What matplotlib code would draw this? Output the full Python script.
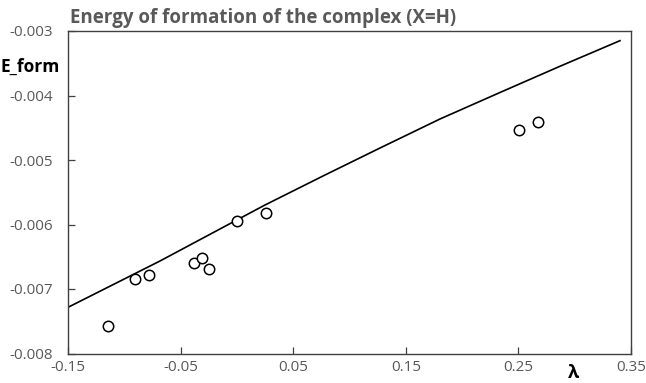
import matplotlib
matplotlib.use("Agg")
import matplotlib.pyplot as plt

# scatter data (lambda, E_form)
lam_pts = [-0.1147, -0.0905, -0.0781, -0.0384, -0.0311, -0.0248, 0.0001, 0.0258, 0.2505, 0.2676]
e_pts = [-0.007569, -0.006845, -0.006783, -0.006592, -0.006515, -0.006690, -0.005941, -0.005826, -0.004535, -0.004406]

# model curve
lam_line = [-0.15, -0.0683, -0.0151, 0.0249, 0.0782, 0.1271, 0.1804, 0.2337, 0.2869, 0.3402]
e_line = [-0.007284, -0.006566, -0.006070, -0.005698, -0.005233, -0.004814, -0.004364, -0.003953, -0.003547, -0.003150]

xticks = [-0.15, -0.05, 0.05, 0.15, 0.25, 0.35]
yticks = [-0.008, -0.007, -0.006, -0.005, -0.004, -0.003]

plt.rcParams['font.family'] = ['Open Sans', 'DejaVu Sans']

fig = plt.figure(figsize=(6.46, 3.83), dpi=100)
ax = fig.add_axes([68/646, 1-353.5/383, (631-68)/646, (353.5-31)/383])

ax.plot(lam_line, e_line, color='black', lw=1.2)
ax.plot(lam_pts, e_pts, linestyle='none', marker='o', markersize=7.5,
        markerfacecolor='white', markeredgecolor='black', markeredgewidth=1.1)

ax.set_xlim(-0.15, 0.35)
ax.set_ylim(-0.008, -0.003)
ax.set_xticks(xticks)
ax.set_yticks(yticks)
ax.set_xticklabels([f"{v:g}" for v in xticks])
ax.set_yticklabels([f"{v:.3f}" for v in yticks])
ax.tick_params(direction='in', length=5, width=0.9, colors='#404040',
               labelcolor='#595959', labelsize=11)
ax.tick_params(axis='x', pad=5)
ax.tick_params(axis='y', pad=11)
for s in ax.spines.values():
    s.set_color('#404040')
    s.set_linewidth(1.0)

fig.text(263/646, 1-18/383, "Energy of formation of the complex (X=H)",
         ha='center', va='center', fontsize=13.5, fontweight='bold', color='#595959')
fig.text(0/646, 1-67/383, "E_form", ha='left', va='center',
         fontsize=12.5, fontweight='bold', color='black')
fig.text(573/646, 1-373/383, "λ", ha='center', va='center',
         fontsize=13, fontweight='bold', color='black')

fig.savefig("out.png", dpi=100)
